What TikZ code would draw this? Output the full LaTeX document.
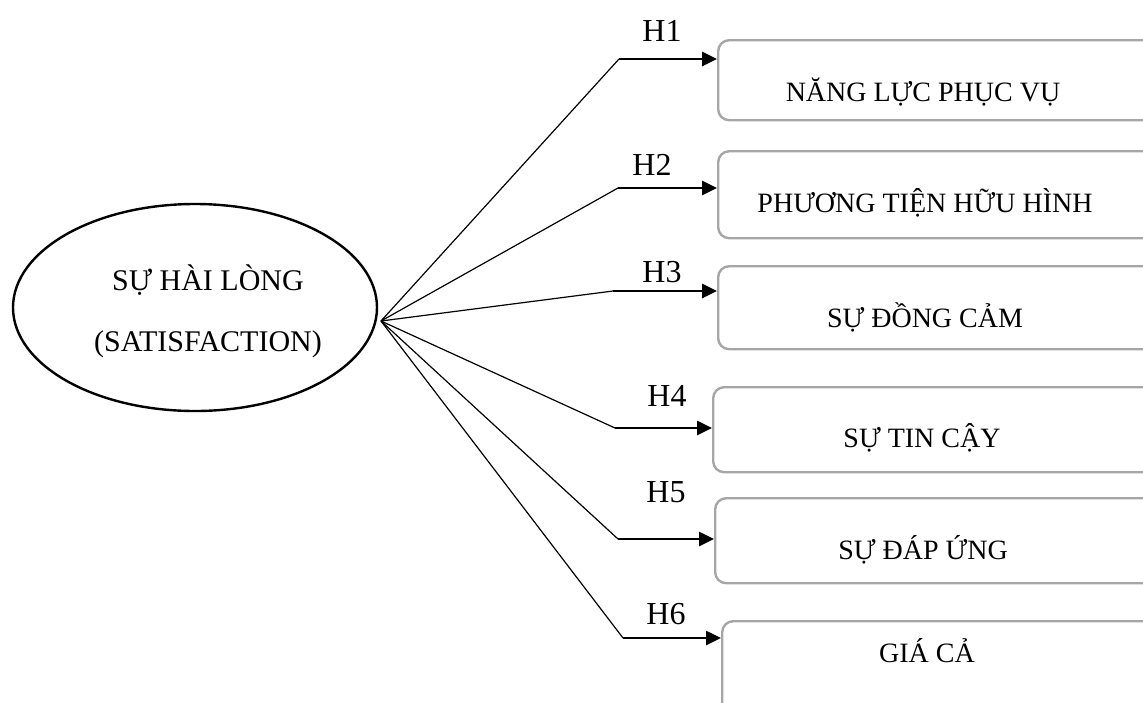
\documentclass[tikz,border=0pt]{standalone}
\usepackage{fontspec}
\setmainfont{Liberation Serif}
\usetikzlibrary{arrows.meta,shapes.geometric}
\definecolor{boxgray}{RGB}{166,166,166}
\begin{document}
\begin{tikzpicture}[x=1pt,y=-1pt,
  every node/.style={font=\fontsize{28}{32}\selectfont, inner sep=0pt},
  construct/.style={draw, ellipse, line width=2.4pt, minimum width=364pt, minimum height=207pt},
  ctext/.style={anchor=base, font=\fontsize{30}{34}\selectfont},
  factor/.style={draw=boxgray, line width=2.4pt, rounded corners=11pt, anchor=north west, minimum width=480pt},
  ftext/.style={anchor=base},
  hlabel/.style={anchor=base, font=\fontsize{32}{36}\selectfont},
  fan/.style={line width=1.2pt},
  path/.style={line width=2.6pt, -{Triangle[length=15pt,width=14pt]}}]
\clip (0,0) rectangle (1143,702);
\useasboundingbox (0,0) rectangle (1143,702);

% central construct
\node[construct] (sat) at (195,307.5) {};
\node[ctext] (satA) at (208,290) {SỰ HÀI LÒNG};
\node[ctext] (satB) at (208,351) {(SATISFACTION)};
\coordinate (o) at (381,321);

% factor boxes
\node[factor, minimum height=80pt] (b1) at (717,39)  {};
\node[factor, minimum height=87pt] (b2) at (717,150) {};
\node[factor, minimum height=83pt] (b3) at (717,265) {};
\node[factor, minimum height=85pt] (b4) at (712,386) {};
\node[factor, minimum height=85pt] (b5) at (714,497) {};
\node[factor, minimum height=130pt] (b6) at (721,620) {};

\node[ftext] (t1) at (923,101) {NĂNG LỰC PHỤC VỤ};
\node[ftext] (t2) at (925,212) {PHƯƠNG TIỆN HỮU HÌNH};
\node[ftext] (t3) at (925,327) {SỰ ĐỒNG CẢM};
\node[ftext] (t4) at (922,447) {SỰ TIN CẬY};
\node[ftext] (t5) at (923,559) {SỰ ĐÁP ỨNG};
\node[ftext] (t6) at (927,662) {GIÁ CẢ};

% bend points of the hypothesis paths
\coordinate (p1) at (619,59);
\coordinate (p2) at (618,188);
\coordinate (p3) at (613,291);
\coordinate (p4) at (615,428);
\coordinate (p5) at (618,539);
\coordinate (p6) at (623,638);

\foreach \i in {1,...,6}{
  \draw[fan] (o) -- (p\i);
  \draw[path] (p\i) -- (p\i -| b\i.west);
}

% hypothesis labels
\node[hlabel] (h1) at (662,41)  {H1};
\node[hlabel] (h2) at (652,175) {H2};
\node[hlabel] (h3) at (662,282) {H3};
\node[hlabel] (h4) at (667,406) {H4};
\node[hlabel] (h5) at (666,502) {H5};
\node[hlabel] (h6) at (666,624) {H6};
\end{tikzpicture}
\end{document}
